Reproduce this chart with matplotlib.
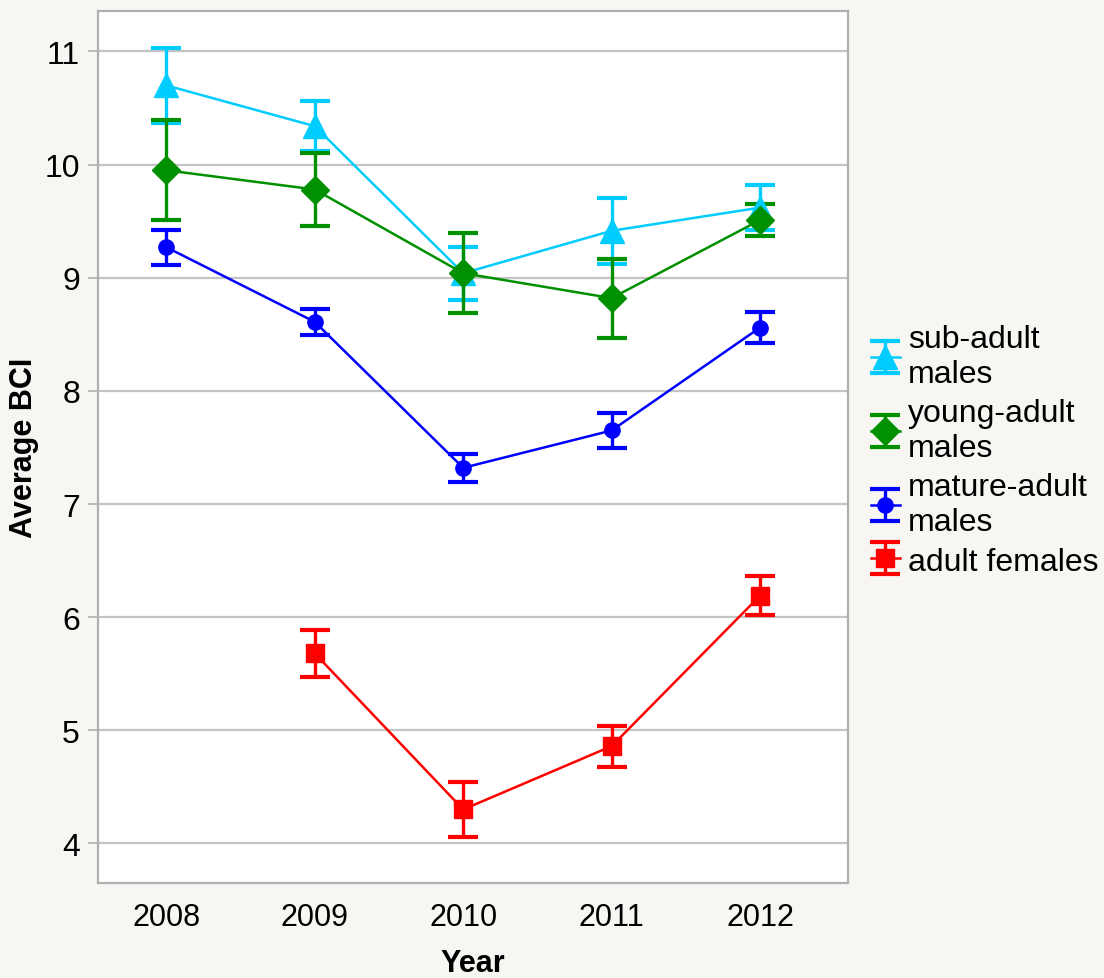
import matplotlib.pyplot as plt
import numpy as np

plt.rcParams['font.family'] = ['Liberation Sans', 'DejaVu Sans']

years = ['2008', '2009', '2010', '2011', '2012']

# mean BCI and error half-widths per group
sub_adult = [10.70, 10.34, 9.04, 9.415, 9.62]
sub_adult_err = [0.335, 0.22, 0.235, 0.29, 0.20]

young_adult = [9.95, 9.78, 9.04, 8.82, 9.51]
young_adult_err = [0.44, 0.32, 0.355, 0.35, 0.145]

mature_adult = [9.27, 8.61, 7.32, 7.65, 8.56]
mature_adult_err = [0.155, 0.115, 0.125, 0.155, 0.135]

# no females sampled in 2008
female_years = ['2009', '2010', '2011', '2012']
females = [5.68, 4.30, 4.86, 6.19]
females_err = [0.205, 0.24, 0.18, 0.17]

fig = plt.figure(figsize=(11.04, 9.79), dpi=100, facecolor='#f7f6f2')
ax = fig.add_axes([0.0888, 0.097, 0.679, 0.891])
ax.set_facecolor('white')

x = np.arange(len(years))
xf = np.array([years.index(y) for y in female_years])

style = dict(lw=1.8, elinewidth=2.4, capsize=11, capthick=3)
h1 = ax.errorbar(x, sub_adult, yerr=sub_adult_err, color='#00ccff', marker='^', ms=17, **style)
h2 = ax.errorbar(x, young_adult, yerr=young_adult_err, color='#009000', marker='D', ms=14, **style)
h3 = ax.errorbar(x, mature_adult, yerr=mature_adult_err, color='#0000ff', marker='o', ms=11, **style)
h4 = ax.errorbar(xf, females, yerr=females_err, color='#ff0000', marker='s', ms=13, **style)

ax.set_xlim(-0.46, 4.59)
ax.set_ylim(3.65, 11.36)
ax.set_yticks([4, 5, 6, 7, 8, 9, 10, 11])
ax.set_xticks(x)
ax.set_xticklabels(years)
ax.grid(axis='y', color='#c4c4c4', lw=1.6)
ax.set_axisbelow(True)
for s in ax.spines.values():
    s.set_color('#b0b0b0')
    s.set_linewidth(1.6)
ax.tick_params(axis='y', length=7, width=1.2, color='#b0b0b0', labelsize=23, pad=6)
ax.tick_params(axis='x', length=0, labelsize=22, pad=14)

ax.set_ylabel('Average BCI', fontsize=22, fontweight='bold')
ax.yaxis.set_label_coords(-0.079, 0.5)
ax.set_xlabel('Year', fontsize=22, fontweight='bold', labelpad=11)

fig.legend([h1, h2, h3, h4],
           ['sub-adult\nmales', 'young-adult\nmales', 'mature-adult\nmales', 'adult females'],
           loc='upper left', bbox_to_anchor=(0.789, 0.668), frameon=False,
           fontsize=23, handlelength=0.9, handletextpad=0.25, labelspacing=0.3,
           borderaxespad=0, borderpad=0)

fig.savefig('out.png', dpi=100, facecolor=fig.get_facecolor())
